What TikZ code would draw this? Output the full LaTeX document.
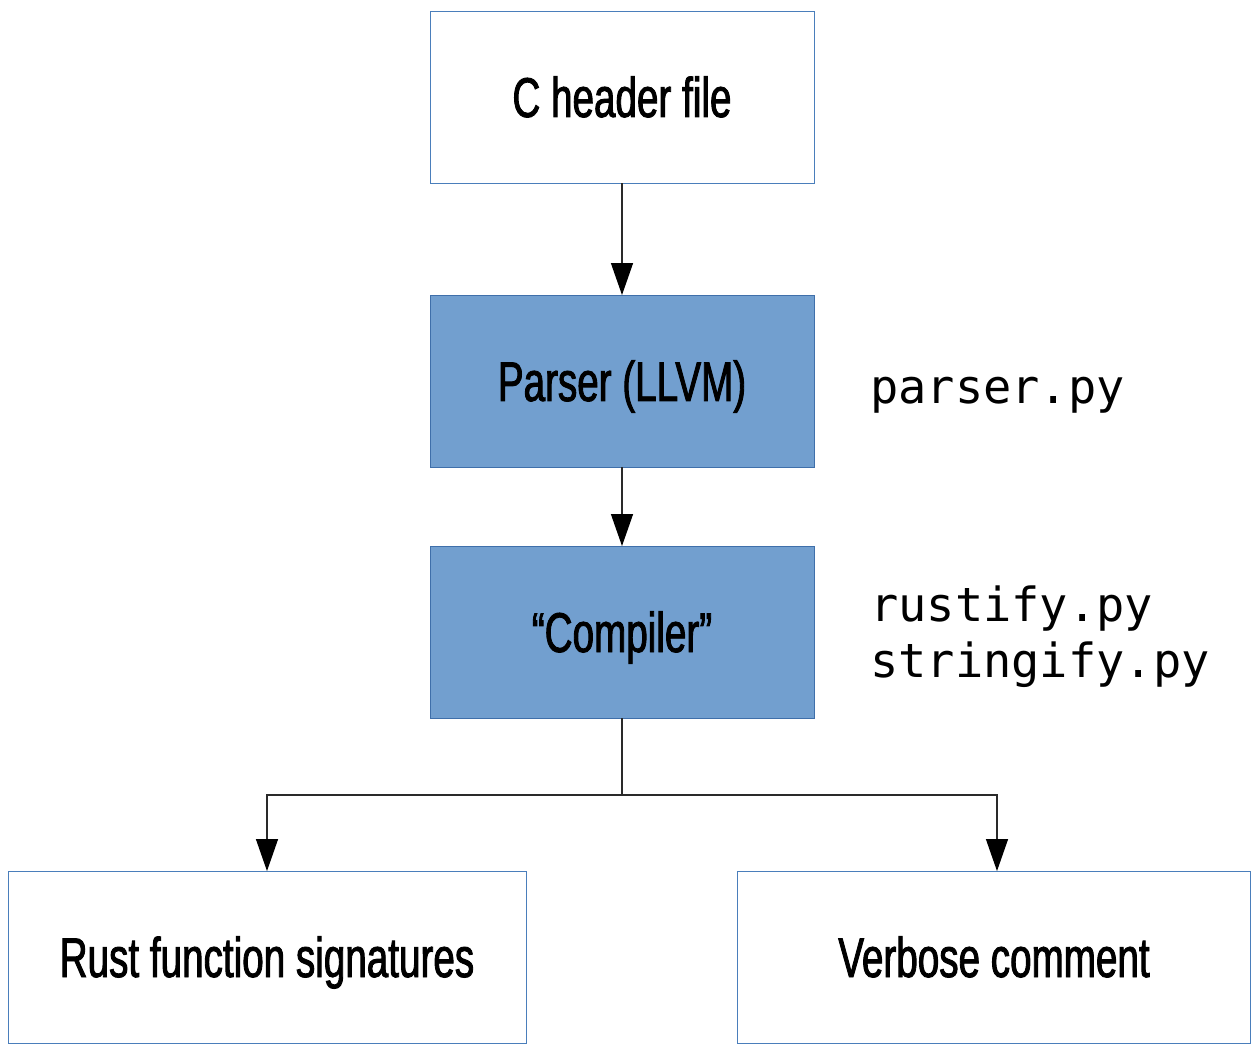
\documentclass[tikz,border=0pt]{standalone}
\usepackage{fontspec}
\usetikzlibrary{arrows.meta}
\newfontfamily\boxfont{Liberation Sans}[FakeStretch=0.69, FakeBold=1.6]
\newfontfamily\codefont{DejaVu Sans Mono}
\definecolor{boxedge}{HTML}{4A7EBB}
\definecolor{stagefill}{HTML}{729FCF}
\definecolor{stageedge}{HTML}{3F6FAA}
\definecolor{wire}{HTML}{2A2A2A}
\tikzset{
  box/.style={draw=boxedge, line width=0.9pt, minimum height=172pt,
    inner sep=0pt, font=\boxfont\fontsize{56}{60}\selectfont,
    text height=40pt, text depth=0pt},
  stage/.style={box, fill=stagefill, draw=stageedge},
  wireline/.style={draw=wire, line width=1.3pt},
  flow/.style={wireline, -{Triangle[length=32pt,width=22pt,color=black]}, shorten >=-0.5pt},
  code/.style={font=\codefont\fontsize{47}{56}\selectfont, inner sep=0pt,
    anchor=base west, align=left}
}
\begin{document}
\begin{tikzpicture}[x=1pt,y=-1pt]
  \useasboundingbox (0,0) rectangle (1251,1048);

  % pipeline boxes
  \node[box,   minimum width=384pt] (header)   at (622,97)  {C header file};
  \node[stage, minimum width=384pt] (parser)   at (622,381) {Parser (LLVM)};
  \node[stage, minimum width=384pt] (compiler) at (622,632) {“Compiler”};
  \node[box,   minimum width=518pt] (rust)     at (267,957) {Rust function signatures};
  \node[box,   minimum width=513pt] (verbose)  at (994,957) {Verbose comment};

  % script names beside the stages (base anchor sits on the last line)
  \node[code] (parserpy) at (870,404) {parser.py};
  \node[code] (compilerpy) at (870,677) {rustify.py\\stringify.py};

  % connectors
  \draw[flow] (header) -- (parser);
  \draw[flow] (parser) -- (compiler);
  \coordinate (split) at (622,795);
  \draw[wireline] (compiler.south) -- (split);
  \draw[flow] (split) -| (rust.north);
  \draw[flow] (split) -| ([xshift=3pt]verbose.north);
\end{tikzpicture}
\end{document}
